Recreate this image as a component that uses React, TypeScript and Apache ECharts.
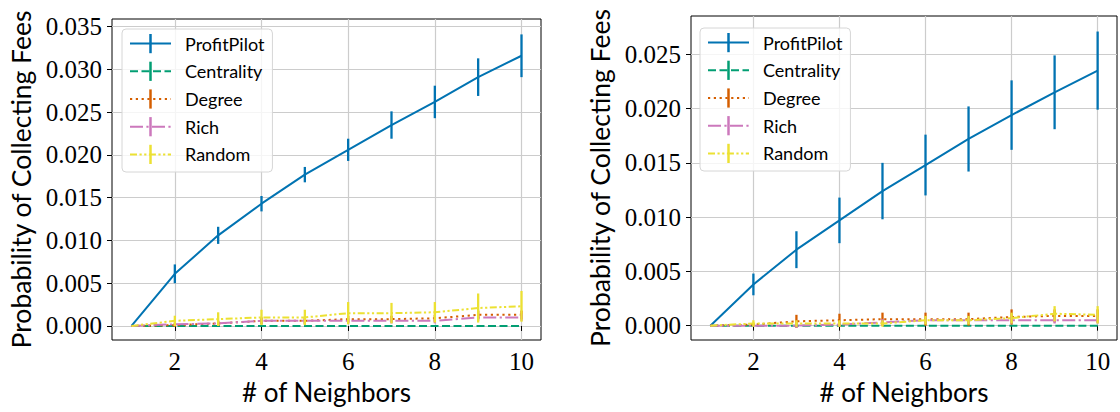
import React, { useEffect, useRef } from "react";
import * as echarts from "echarts";

const neighbors = [1, 2, 3, 4, 5, 6, 7, 8, 9, 10];
const seriesNames = ["ProfitPilot", "Centrality", "Degree", "Rich", "Random"];
const xTickValues = [2, 4, 6, 8, 10];
const leftYTicks = [0, 0.005, 0.01, 0.015, 0.02, 0.025, 0.03, 0.035];
const rightYTicks = [0, 0.005, 0.01, 0.015, 0.02, 0.025];

// Left panel
const leftProfitPilot = [0, 0.0061, 0.0106, 0.0143, 0.0177, 0.0206, 0.0235, 0.0262, 0.0291, 0.0316];
const leftProfitPilotErr = [0, 0.0011, 0.001, 0.0009, 0.0009, 0.0013, 0.0016, 0.0019, 0.0022, 0.0025];
const leftCentrality = [0, 0, 0, 0, 0, 0, 0, 0, 0, 0];
const leftCentralityErr = [0, 0, 0, 0, 0, 0, 0, 0, 0, 0];
const leftDegree = [0, 0.0001, 0.0003, 0.0006, 0.0006, 0.0008, 0.0008, 0.0009, 0.0013, 0.0013];
const leftDegreeErr = [0, 0.0002, 0.0003, 0.0004, 0.0004, 0.0004, 0.0004, 0.0004, 0.0005, 0.0005];
const leftRich = [0, 0.0002, 0.0003, 0.0006, 0.0006, 0.0006, 0.0006, 0.0006, 0.001, 0.001];
const leftRichErr = [0, 0.0002, 0.0003, 0.0003, 0.0003, 0.0003, 0.0003, 0.0003, 0.0004, 0.0004];
const leftRandom = [0, 0.0006, 0.0008, 0.001, 0.001, 0.0015, 0.0015, 0.0016, 0.0021, 0.0023];
const leftRandomErr = [0, 0.0006, 0.0008, 0.0009, 0.0009, 0.0013, 0.0012, 0.0012, 0.0017, 0.0018];

// Right panel
const rightProfitPilot = [0, 0.0038, 0.007, 0.0097, 0.0124, 0.0148, 0.0172, 0.0194, 0.0215, 0.0235];
const rightProfitPilotErr = [0, 0.001, 0.0017, 0.0021, 0.0026, 0.0028, 0.003, 0.0032, 0.0034, 0.0036];
const rightCentrality = [0, 0, 0, 0, 0, 0, 0, 0, 0, 0];
const rightCentralityErr = [0, 0, 0, 0, 0, 0, 0, 0, 0, 0];
const rightDegree = [0, 0.0001, 0.0004, 0.0005, 0.0006, 0.0006, 0.0006, 0.0008, 0.0009, 0.0009];
const rightDegreeErr = [0, 0.0001, 0.0006, 0.0006, 0.0006, 0.0006, 0.0006, 0.0007, 0.0006, 0.0006];
const rightRich = [0, 0, 0, 0.0001, 0.0003, 0.0005, 0.0005, 0.0005, 0.0005, 0.0005];
const rightRichErr = [0, 0.0001, 0.0002, 0.0002, 0.0003, 0.0003, 0.0003, 0.0003, 0.0003, 0.0003];
const rightRandom = [0, 0.0002, 0.0002, 0.0002, 0.0002, 0.0005, 0.0005, 0.0007, 0.0011, 0.001];
const rightRandomErr = [0, 0.0003, 0.0003, 0.0003, 0.0003, 0.0004, 0.0004, 0.0005, 0.0007, 0.0008];

const colors = ["#0173b2", "#029e73", "#d55e00", "#cc78bc", "#ece133"];
const dashes: (string | number[])[] = [
  "solid",
  [8, 3.5],
  [2.2, 3.6],
  [13, 3.4, 2.2, 3.4],
  [7, 2.5, 2.2, 2.5, 2.2, 2.5],
];

const legendSymbol = "path://M0,0M20,20M8.7,0H11.3V20H8.7Z";

function buildSeries(gridIdx: number, means: number[][], errs: number[][]) {
  const out: any[] = [];
  means.forEach((vals, i) => {
    out.push({
      type: "line",
      name: seriesNames[i],
      xAxisIndex: gridIdx,
      yAxisIndex: gridIdx,
      data: neighbors.map((x, k) => [x, vals[k]]),
      showSymbol: false,
      symbol: legendSymbol,
      symbolSize: 20,
      color: colors[i],
      itemStyle: { color: colors[i], borderWidth: 0 },
      lineStyle: { color: colors[i], width: 2, type: dashes[i] as any },
      emphasis: { disabled: true },
      z: 2 + i,
    });
    out.push({
      type: "custom",
      xAxisIndex: gridIdx,
      yAxisIndex: gridIdx,
      data: neighbors.map((x, k) => [x, vals[k] - errs[i][k], vals[k] + errs[i][k]]),
      encode: { x: 0, y: [1, 2] },
      z: 2 + i,
      silent: true,
      renderItem: (params: any, api: any) => {
        const x = api.value(0);
        const p1 = api.coord([x, api.value(1)]);
        const p2 = api.coord([x, api.value(2)]);
        return {
          type: "line",
          shape: { x1: p1[0], y1: p1[1], x2: p2[0], y2: p2[1] },
          style: { stroke: colors[i], lineWidth: 2.3 },
        };
      },
    });
  });
  return out;
}

const tickFont = "Liberation Serif";
const sansFont = "Lato";

function xAxisCfg(gridIdx: number) {
  return {
    type: "value",
    gridIndex: gridIdx,
    min: 0.55,
    max: 10.45,
    minInterval: 2,
    maxInterval: 2,
    axisLine: { show: false },
    axisTick: { show: true, inside: false, length: 5, lineStyle: { color: "#000", width: 1 }, customValues: xTickValues },
    axisLabel: { customValues: xTickValues, fontFamily: tickFont, fontSize: 25, color: "#000", margin: 9 },
    splitLine: { show: true, lineStyle: { color: "#cccccc", width: 1.2 } },
    name: "# of Neighbors",
    nameLocation: "middle",
    nameGap: 34,
    nameTextStyle: { fontFamily: sansFont, fontSize: 26, color: "#000" },
  };
}

function yAxisCfg(gridIdx: number, min: number, max: number, ticks: number[]) {
  return {
    type: "value",
    gridIndex: gridIdx,
    min,
    max,
    minInterval: 0.005,
    maxInterval: 0.005,
    axisLine: { show: false },
    axisTick: { show: true, inside: false, length: 5, lineStyle: { color: "#000", width: 1 }, customValues: ticks },
    axisLabel: {
      customValues: ticks,
      formatter: (v: number) => v.toFixed(3),
      fontFamily: tickFont,
      fontSize: 25,
      color: "#000",
      margin: 10,
    },
    splitLine: { show: true, lineStyle: { color: "#cccccc", width: 1.2 } },
    name: "Probability of Collecting Fees",
    nameLocation: "middle",
    nameGap: 78,
    nameTextStyle: { fontFamily: sansFont, fontSize: 26.5, color: "#000" },
  };
}

function legendCfg(left: number, top: number) {
  return {
    show: true,
    orient: "vertical",
    left,
    top,
    data: seriesNames,
    selectedMode: false,
    itemWidth: 41,
    itemHeight: 24,
    itemGap: 8.5,
    padding: [5, 8, 8, 7],
    backgroundColor: "rgba(255,255,255,0.8)",
    borderColor: "#d6d6d6",
    borderWidth: 1,
    borderRadius: 4,
    textStyle: { fontFamily: sansFont, fontSize: 18, color: "#000", padding: [0, 0, 0, 9] },
  };
}

export default function App() {
  const ref = useRef<HTMLDivElement>(null);
  useEffect(() => {
    if (!ref.current) return;
    const chart = echarts.init(ref.current, null, { renderer: "svg" });
    chart.setOption({
      animation: false,
      backgroundColor: "#ffffff",
      grid: [
        { left: 112, top: 19, width: 429, height: 321, show: true, borderColor: "#000", borderWidth: 1, backgroundColor: "transparent" },
        { left: 691, top: 16, width: 426, height: 324, show: true, borderColor: "#000", borderWidth: 1, backgroundColor: "transparent" },
      ],
      xAxis: [xAxisCfg(0), xAxisCfg(1)],
      yAxis: [yAxisCfg(0, -0.00164, 0.0359, leftYTicks), yAxisCfg(1, -0.00132, 0.02853, rightYTicks)],
      legend: [legendCfg(122, 29), legendCfg(700, 28)],
      series: [
        ...buildSeries(
          0,
          [leftProfitPilot, leftCentrality, leftDegree, leftRich, leftRandom],
          [leftProfitPilotErr, leftCentralityErr, leftDegreeErr, leftRichErr, leftRandomErr]
        ),
        ...buildSeries(
          1,
          [rightProfitPilot, rightCentrality, rightDegree, rightRich, rightRandom],
          [rightProfitPilotErr, rightCentralityErr, rightDegreeErr, rightRichErr, rightRandomErr]
        ),
      ],
    });
    return () => chart.dispose();
  }, []);
  return (
    <div
      ref={ref}
      style={{ position: "fixed", left: 0, top: 0, width: 1120, height: 412, background: "#fff" }}
    />
  );
}
